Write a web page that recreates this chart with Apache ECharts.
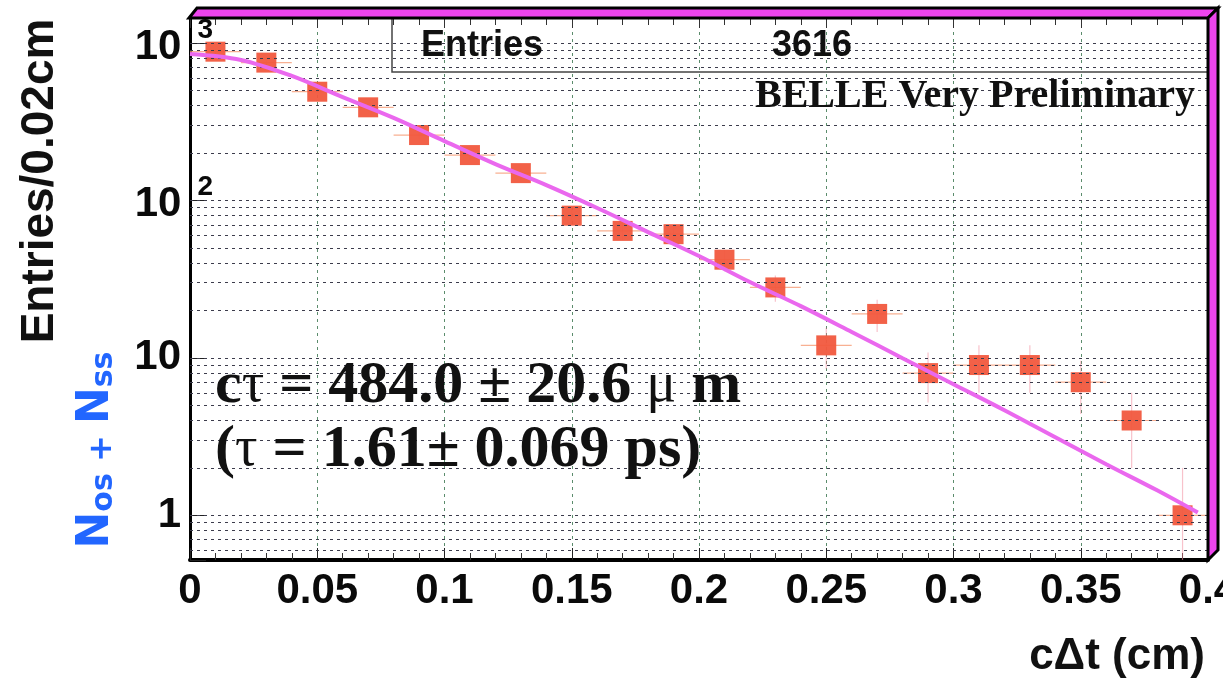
<!DOCTYPE html>
<html>
<head>
<meta charset="utf-8">
<title>cΔt distribution</title>
<script src="https://cdn.jsdelivr.net/npm/echarts@6/dist/echarts.min.js"></script>
<style>
  html, body { margin: 0; padding: 0; background: #ffffff; }
  #chart { width: 1223px; height: 682px; }
</style>
</head>
<body>
<div id="chart"></div>
<script>
// Histogram of cΔt, 0.02 cm bins (bin centres in cm)
const binCentres = [0.01, 0.03, 0.05, 0.07, 0.09, 0.11, 0.13, 0.15, 0.17, 0.19,
                    0.21, 0.23, 0.25, 0.27, 0.29, 0.31, 0.33, 0.35, 0.37, 0.39];
// Entries per bin (N_OS + N_SS)
const entries = [880, 750, 490, 390, 260, 194, 149, 80, 64, 61,
                 42, 28, 12, 19, 8, 9, 9, 7, 4, 1];
// Vertical error on each bin
const entryErrors = [30, 27, 22, 20, 16, 14, 12, 9, 8, 8,
                     6.5, 5.3, 3.5, 4.4, 2.8, 3, 3, 2.6, 2, 1];
const binHalfWidth = 0.01;

// Lifetime fit curve
const fitX = [0, 0.02, 0.04, 0.06, 0.08, 0.10, 0.12, 0.14, 0.16, 0.18, 0.20,
              0.22, 0.24, 0.26, 0.28, 0.30, 0.32, 0.34, 0.36, 0.38, 0.396];
const fitY = [851, 780, 617, 453, 334, 238, 170, 125, 89.4, 62.9, 44.3,
              30.3, 21.3, 14.6, 9.94, 6.80, 4.65, 3.13, 2.11, 1.44, 1.04];

// Axis tick labels
const xTickLabels = ['0', '0.05', '0.1', '0.15', '0.2', '0.25', '0.3', '0.35', '0.4'];
const yDecades = [1, 10, 100, 1000];
const yDecadeLabels = ['{b|1}', '{b|10}', '{m|10}{s|2}', '{m|10}{s|3}'];

const X_MIN = 0, X_MAX = 0.4, X_STEP = 0.05;
const Y_MIN = 0.52, Y_MAX = 1440;

// log grid lines at 1..9 x 10^k inside the y range
const yGridValues = [];
[0.1, 1, 10, 100, 1000].forEach(function (d) {
  for (let m = 1; m <= 9; m++) {
    const v = +(m * d).toPrecision(3);
    if (v > Y_MIN && v < Y_MAX) yGridValues.push(v);
  }
});

const scatterData = binCentres.map((x, i) => [x, entries[i]]);
const errorData = binCentres.map((x, i) => [x, entries[i], entryErrors[i]]);
const fitData = fitX.map((x, i) => [x, fitY[i]]);

const MAGENTA = '#ee44ee';
const SANS = '"Liberation Sans", Arial, Helvetica, sans-serif';
const SERIF = '"Liberation Serif", "Times New Roman", serif';
const BLUE = '#2266ff';

const chart = echarts.init(document.getElementById('chart'), null, { renderer: 'canvas' });

const option = {
  animation: false,
  backgroundColor: '#ffffff',
  grid: { left: 190, top: 18, width: 1018, height: 542, containLabel: false, outerBoundsMode: 'none' },
  xAxis: [{
    type: 'value', min: X_MIN, max: X_MAX, interval: X_STEP,
    axisLine: { show: true, onZero: false, lineStyle: { color: '#000', width: 4 } },
    axisTick: { show: true, inside: true, length: 12, lineStyle: { color: '#222', width: 1 } },
    minorTick: { show: true, splitNumber: 5, length: 7, lineStyle: { color: '#333', width: 1 } },
    splitLine: { show: true, lineStyle: { color: '#5b8c6c', width: 1, type: [3, 4] } },
    axisLabel: {
      margin: 10, color: '#0a0a0a', fontSize: 42, fontWeight: 'bold', fontFamily: SANS,
      lineHeight: 42,
      formatter: function (v) { return xTickLabels[Math.round((v - X_MIN) / X_STEP)] || ''; }
    }
  }, {
    type: 'value', position: 'top', min: X_MIN, max: X_MAX, interval: X_STEP,
    axisLine: { show: false },
    axisTick: { show: true, inside: true, length: 10, lineStyle: { color: '#333', width: 1 } },
    minorTick: { show: true, splitNumber: 5, length: 7, lineStyle: { color: '#333', width: 1 } },
    splitLine: { show: false },
    axisLabel: { show: false }
  }],
  yAxis: {
    type: 'log', logBase: 10, min: Y_MIN, max: Y_MAX,
    axisLine: { show: true, onZero: false, lineStyle: { color: '#000', width: 3 } },
    axisTick: { show: true, inside: true, length: 16, lineStyle: { color: '#222', width: 1 } },
    splitLine: { show: false },
    axisLabel: {
      margin: -23, color: '#0a0a0a',
      formatter: function (v) {
        const e = Math.log10(v);
        const k = yDecades.findIndex(d => Math.abs(Math.log10(d) - e) < 1e-6);
        return k >= 0 ? yDecadeLabels[k] : '';
      },
      rich: {
        b: { fontSize: 42, fontWeight: 'bold', fontFamily: SANS, color: '#0a0a0a',
             lineHeight: 44, padding: [0, 32, 0, 0] },
        m: { fontSize: 42, fontWeight: 'bold', fontFamily: SANS, color: '#0a0a0a',
             lineHeight: 50, padding: [0, 16, 0, 0], verticalAlign: 'bottom' },
        s: { fontSize: 28, fontWeight: 'bold', fontFamily: SANS, color: '#0a0a0a',
             lineHeight: 30, padding: [0, 0, 24, 0], verticalAlign: 'bottom' }
      }
    }
  },
  series: [
    {
      // dotted log grid
      type: 'line', data: [], silent: true,
      markLine: {
        silent: true, symbol: 'none', animation: false,
        label: { show: false },
        lineStyle: { color: '#3c3c4c', width: 1, type: [3, 4] },
        data: yGridValues.map(v => ({ yAxis: v }))
      }
    },
    {
      // bin width and statistical error bars
      type: 'custom', clip: true, silent: true, z: 3,
      data: errorData,
      renderItem: function (params, api) {
        const x = api.value(0), y = api.value(1), e = api.value(2);
        const lo = Math.max(y - e, Y_MIN);
        const hi = Math.min(y + e, Y_MAX);
        const pL = api.coord([x - binHalfWidth, y]);
        const pR = api.coord([x + binHalfWidth, y]);
        const pLo = api.coord([x, lo]);
        const pHi = api.coord([x, hi]);
        return {
          type: 'group',
          children: [
            { type: 'line', shape: { x1: pL[0], y1: pL[1], x2: pR[0], y2: pR[1] },
              style: { stroke: 'rgba(246,150,110,0.75)', lineWidth: 1.2 } },
            { type: 'line', shape: { x1: pLo[0], y1: pLo[1], x2: pHi[0], y2: pHi[1] },
              style: { stroke: 'rgba(240,120,140,0.45)', lineWidth: 1.2 } }
          ]
        };
      }
    },
    {
      type: 'scatter', data: scatterData, z: 4,
      symbol: 'rect', symbolSize: 20,
      itemStyle: { color: '#f1583e', opacity: 0.95 }
    },
    {
      type: 'line', data: fitData, z: 5,
      smooth: 0.35, showSymbol: false, symbol: 'none',
      lineStyle: { color: '#ea68ee', width: 4 }
    }
  ],
  graphic: [
    // raised pad border: top and right bevel bands
    { type: 'polygon', z: 100,
      shape: { points: [[189, 18], [197, 8], [1218, 8], [1208, 18]] },
      style: { fill: MAGENTA, stroke: '#000', lineWidth: 3, lineJoin: 'miter' } },
    { type: 'polygon', z: 100,
      shape: { points: [[1208, 18], [1218, 8], [1218, 550], [1208, 560]] },
      style: { fill: MAGENTA, stroke: '#000', lineWidth: 3, lineJoin: 'miter' } },
    // statistics box
    { type: 'rect', z: 90,
      shape: { x: 392, y: 18, width: 816, height: 54 },
      style: { fill: 'none', stroke: '#444', lineWidth: 1.5 } },
    { type: 'text', z: 91, x: 421, y: 46,
      style: { text: 'Entries', font: 'bold 36px ' + SANS, fill: '#111',
               textAlign: 'left', textVerticalAlign: 'middle' } },
    { type: 'text', z: 91, x: 812, y: 46,
      style: { text: '3616', font: 'bold 36px ' + SANS, fill: '#111',
               textAlign: 'center', textVerticalAlign: 'middle' } },
    { type: 'text', z: 91, x: 1195, y: 97,
      style: { text: 'BELLE Very Preliminary', font: 'bold 40px ' + SERIF, fill: '#111',
               textAlign: 'right', textVerticalAlign: 'middle' } },
    // fit result
    { type: 'text', z: 91, x: 215, y: 386,
      style: {
        text: '{b|c}{g|τ}{b| = 484.0 ± 20.6 }{g|μ}{b| m}',
        textAlign: 'left', textVerticalAlign: 'middle',
        rich: {
          b: { font: 'bold 60px ' + SERIF, fill: '#111' },
          g: { font: '56px ' + SERIF, fill: '#111' }
        }
      } },
    { type: 'text', z: 91, x: 215, y: 450,
      style: {
        text: '{b|(}{g|τ}{b| = 1.61± 0.069 ps)}',
        textAlign: 'left', textVerticalAlign: 'middle',
        rich: {
          b: { font: 'bold 60px ' + SERIF, fill: '#111' },
          g: { font: '56px ' + SERIF, fill: '#111' }
        }
      } },
    // axis titles
    { type: 'text', z: 91, x: 40, y: 181, rotation: Math.PI / 2,
      style: { text: 'Entries/0.02cm', font: 'bold 46px ' + SANS, fill: '#111',
               textAlign: 'center', textVerticalAlign: 'middle' } },
    { type: 'text', z: 91, x: 96, y: 450, rotation: Math.PI / 2,
      style: {
        text: '{N|N}{s|os}{p| + }{N|N}{s|ss}',
        textAlign: 'center', textVerticalAlign: 'middle',
        rich: {
          N: { font: 'bold 44px "DejaVu Sans", sans-serif', fill: BLUE,
               lineHeight: 46, verticalAlign: 'bottom' },
          s: { font: 'bold 30px "DejaVu Sans", sans-serif', fill: BLUE,
               lineHeight: 30, verticalAlign: 'bottom' },
          p: { font: 'bold 32px "DejaVu Sans", sans-serif', fill: BLUE,
               lineHeight: 40, verticalAlign: 'bottom' }
        }
      } },
    { type: 'text', z: 91, x: 1205, y: 657,
      style: { text: 'cΔt (cm)', font: 'bold 44px ' + SANS, fill: '#111',
               textAlign: 'right', textVerticalAlign: 'middle' } }
  ]
};

chart.setOption(option);
</script>
</body>
</html>
